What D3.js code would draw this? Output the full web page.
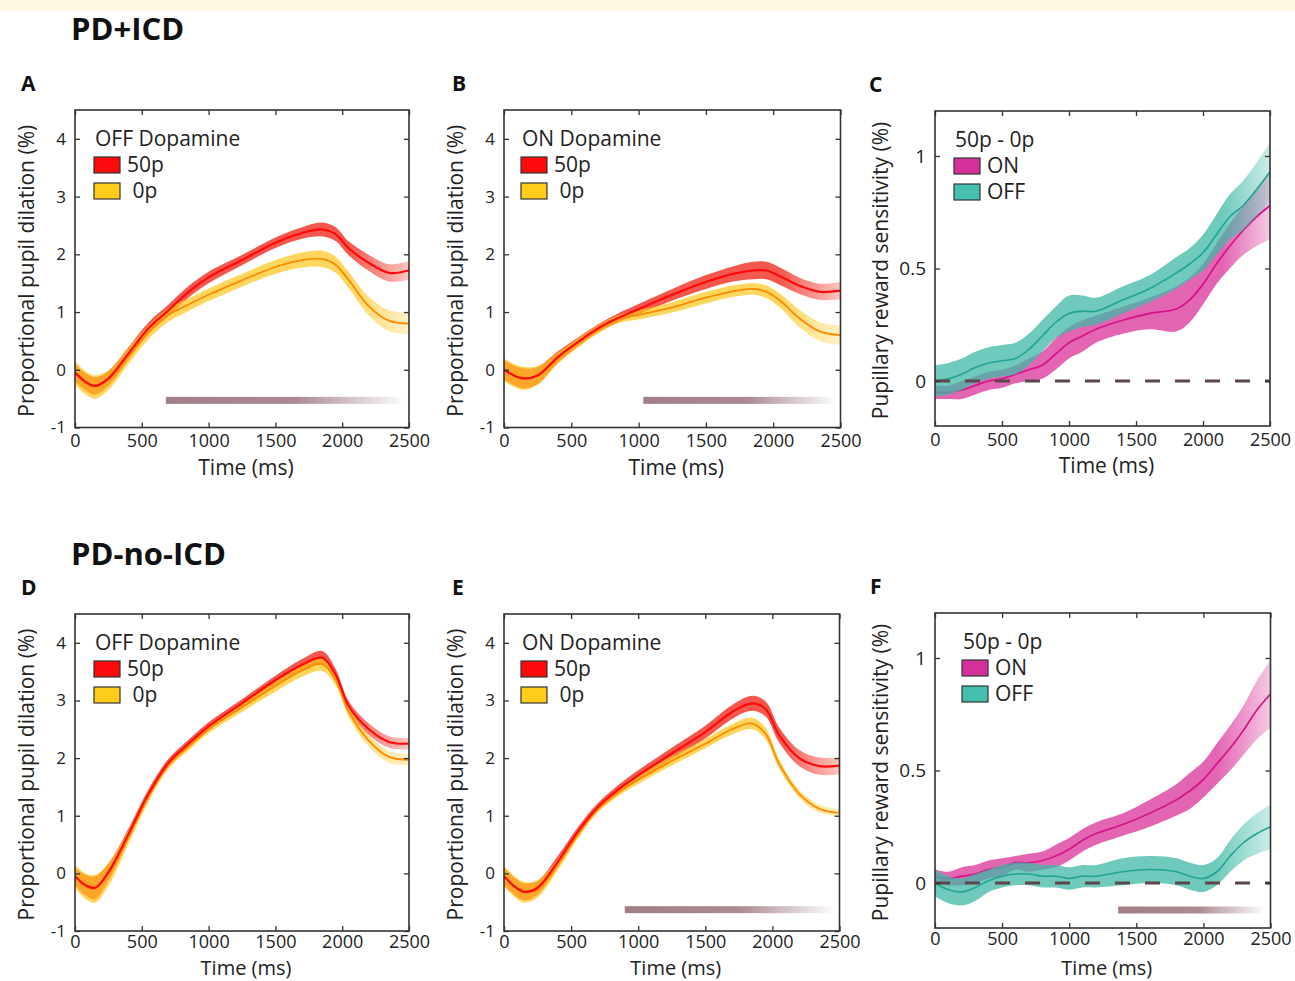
<!DOCTYPE html>
<html>
<head>
<meta charset="utf-8">
<script src="https://cdn.jsdelivr.net/npm/d3@7"></script>
<style>
body { margin: 0; background: #fff; }
svg { display: block; font-family: "Open Sans", sans-serif; }
</style>
</head>
<body>
<svg id="fig" width="1295" height="981"></svg>
<script>
// time axis (ms) for the pupil dilation panels
const pupilTime = [0, 75, 150, 250, 400, 550, 700, 850, 1000, 1250, 1500, 1700, 1850, 1950, 2050, 2200, 2350, 2500];

// PD+ICD, OFF dopamine (A)
const icdOff50 = [-0.05, -0.2, -0.28, -0.15, 0.28, 0.72, 1.03, 1.35, 1.6, 1.9, 2.2, 2.37, 2.43, 2.35, 2.1, 1.85, 1.68, 1.72];
const icdOff50Err = [0.15, 0.15, 0.15, 0.13, 0.11, 0.1, 0.1, 0.1, 0.1, 0.09, 0.09, 0.1, 0.12, 0.12, 0.12, 0.14, 0.15, 0.16];
const icdOff0 = [-0.05, -0.22, -0.3, -0.18, 0.24, 0.65, 0.95, 1.13, 1.3, 1.55, 1.78, 1.9, 1.92, 1.82, 1.55, 1.1, 0.85, 0.8];
const icdOff0Err = [0.2, 0.2, 0.2, 0.17, 0.14, 0.12, 0.12, 0.11, 0.11, 0.11, 0.12, 0.13, 0.14, 0.14, 0.14, 0.16, 0.18, 0.19];

// PD+ICD, ON dopamine (B)
const icdOn50 = [0, -0.1, -0.15, -0.1, 0.22, 0.48, 0.72, 0.9, 1.05, 1.3, 1.52, 1.66, 1.72, 1.72, 1.62, 1.45, 1.35, 1.37];
const icdOn50Err = [0.17, 0.17, 0.17, 0.15, 0.1, 0.08, 0.07, 0.08, 0.09, 0.1, 0.12, 0.13, 0.15, 0.15, 0.15, 0.14, 0.14, 0.15];
const icdOn0 = [0, -0.1, -0.15, -0.1, 0.2, 0.47, 0.7, 0.88, 0.95, 1.08, 1.25, 1.36, 1.4, 1.35, 1.2, 0.88, 0.66, 0.6];
const icdOn0Err = [0.2, 0.2, 0.2, 0.16, 0.1, 0.08, 0.07, 0.07, 0.08, 0.09, 0.1, 0.1, 0.1, 0.11, 0.12, 0.15, 0.16, 0.17];

// PD-no-ICD, OFF dopamine (D)
const noOff50 = [-0.05, -0.2, -0.25, 0.02, 0.68, 1.38, 1.92, 2.25, 2.55, 2.95, 3.35, 3.62, 3.74, 3.45, 2.9, 2.5, 2.28, 2.25];
const noOff50Err = [0.15, 0.18, 0.2, 0.15, 0.1, 0.08, 0.07, 0.07, 0.07, 0.07, 0.08, 0.1, 0.12, 0.1, 0.08, 0.1, 0.1, 0.1];
const noOff0 = [-0.05, -0.22, -0.27, -0.02, 0.63, 1.33, 1.88, 2.2, 2.5, 2.88, 3.25, 3.52, 3.63, 3.36, 2.8, 2.3, 2.02, 1.97];
const noOff0Err = [0.2, 0.22, 0.24, 0.2, 0.12, 0.09, 0.07, 0.07, 0.07, 0.08, 0.1, 0.11, 0.12, 0.1, 0.09, 0.1, 0.1, 0.1];

// PD-no-ICD, ON dopamine (E)
const noOn50 = [-0.05, -0.22, -0.32, -0.25, 0.2, 0.72, 1.15, 1.45, 1.7, 2.08, 2.45, 2.8, 2.95, 2.85, 2.4, 2.0, 1.86, 1.87];
const noOn50Err = [0.15, 0.15, 0.15, 0.12, 0.1, 0.08, 0.07, 0.08, 0.09, 0.1, 0.11, 0.12, 0.13, 0.13, 0.13, 0.14, 0.15, 0.15];
const noOn0 = [-0.05, -0.22, -0.33, -0.27, 0.15, 0.67, 1.12, 1.4, 1.62, 1.95, 2.25, 2.5, 2.6, 2.42, 1.9, 1.38, 1.12, 1.05];
const noOn0Err = [0.18, 0.18, 0.18, 0.15, 0.1, 0.07, 0.06, 0.06, 0.07, 0.08, 0.08, 0.09, 0.1, 0.1, 0.08, 0.07, 0.07, 0.07];

// time axis (ms) for the reward sensitivity (50p - 0p) panels
const diffTime = [0, 100, 200, 300, 400, 500, 600, 700, 800, 900, 1000, 1100, 1200, 1400, 1600, 1800, 1900, 2000, 2100, 2200, 2300, 2400, 2500];

// PD+ICD difference (C)
const icdDiffOn = [-0.05, -0.05, -0.04, -0.02, 0, 0.01, 0.03, 0.05, 0.07, 0.12, 0.17, 0.2, 0.23, 0.27, 0.3, 0.32, 0.36, 0.43, 0.52, 0.6, 0.67, 0.73, 0.78];
const icdDiffOnErr = [0.03, 0.03, 0.04, 0.04, 0.04, 0.04, 0.04, 0.05, 0.06, 0.07, 0.07, 0.07, 0.06, 0.06, 0.07, 0.1, 0.1, 0.09, 0.09, 0.1, 0.11, 0.13, 0.15];
const icdDiffOff = [0, 0.01, 0.03, 0.06, 0.08, 0.09, 0.1, 0.14, 0.2, 0.26, 0.3, 0.31, 0.31, 0.36, 0.41, 0.48, 0.52, 0.57, 0.65, 0.73, 0.78, 0.85, 0.93];
const icdDiffOffErr = [0.07, 0.07, 0.07, 0.07, 0.07, 0.07, 0.07, 0.07, 0.07, 0.07, 0.08, 0.07, 0.06, 0.06, 0.06, 0.07, 0.07, 0.08, 0.09, 0.1, 0.11, 0.12, 0.13];

// PD-no-ICD difference (F)
const noDiffOn = [0.03, 0.02, 0.03, 0.04, 0.06, 0.07, 0.09, 0.09, 0.1, 0.12, 0.15, 0.19, 0.22, 0.26, 0.31, 0.37, 0.41, 0.46, 0.53, 0.6, 0.68, 0.77, 0.84];
const noDiffOnErr = [0.03, 0.03, 0.04, 0.04, 0.04, 0.04, 0.03, 0.04, 0.04, 0.05, 0.05, 0.05, 0.05, 0.05, 0.06, 0.07, 0.08, 0.08, 0.09, 0.1, 0.11, 0.13, 0.15];
const noDiffOff = [0, -0.03, -0.04, -0.02, 0.01, 0.03, 0.04, 0.04, 0.03, 0.03, 0.02, 0.03, 0.03, 0.05, 0.06, 0.05, 0.03, 0.02, 0.05, 0.12, 0.18, 0.22, 0.25];
const noDiffOffErr = [0.06, 0.06, 0.06, 0.06, 0.05, 0.05, 0.05, 0.05, 0.05, 0.05, 0.05, 0.05, 0.05, 0.06, 0.06, 0.06, 0.06, 0.06, 0.06, 0.07, 0.08, 0.09, 0.1];

// significance bars: [start ms, end ms, y value]
const sigA = [680, 2445, -0.53];
const sigB = [1035, 2445, -0.53];
const sigE = [900, 2445, -0.63];
const sigF = [1365, 2445, -0.12];

const timeTicks = [0, 500, 1000, 1500, 2000, 2500];
const pupilTicks = [-1, 0, 1, 2, 3, 4];
const diffTicks = [0, 0.5, 1];

const svg = d3.select("#fig");
const defs = svg.append("defs");

svg.append("rect")
    .attr("x", 0).attr("y", 0)
    .attr("width", 1295).attr("height", 11)
    .attr("fill", "#fdf7e3");

svg.append("text").attr("x", 71).attr("y", 40)
    .attr("font-size", 31).attr("font-weight", 700).attr("fill", "#111")
    .text("PD+ICD");
svg.append("text").attr("x", 71).attr("y", 565)
    .attr("font-size", 31).attr("font-weight", 700).attr("fill", "#111")
    .text("PD-no-ICD");

// band colour that gets lighter towards the end of the trial
function bandGradient(id, color, fadeFrac) {
    const grad = defs.append("linearGradient").attr("id", id)
        .attr("x1", 0).attr("x2", 1).attr("y1", 0).attr("y2", 0);
    grad.append("stop").attr("offset", 0).attr("stop-color", color).attr("stop-opacity", 1);
    grad.append("stop").attr("offset", fadeFrac).attr("stop-color", color).attr("stop-opacity", 1);
    grad.append("stop").attr("offset", 1).attr("stop-color", color).attr("stop-opacity", 0.35);
    return `url(#${id})`;
}

const sigGrad = defs.append("linearGradient").attr("id", "sigGrad");
sigGrad.append("stop").attr("offset", 0).attr("stop-color", "#a27e85").attr("stop-opacity", 1);
sigGrad.append("stop").attr("offset", 0.55).attr("stop-color", "#a6848b").attr("stop-opacity", 0.95);
sigGrad.append("stop").attr("offset", 1).attr("stop-color", "#a6848b").attr("stop-opacity", 0.04);

const panels = [
    { id: "A", left: 75, right: 409, top: 110, bottom: 427.5, diff: false, legendTitle: "OFF Dopamine", legendDx: 19, letterX: 21, fade: 2050,
      series: [icdOff50, icdOff50Err, icdOff0, icdOff0Err], sig: sigA },
    { id: "B", left: 504, right: 840.5, top: 110, bottom: 427.5, diff: false, legendTitle: "ON Dopamine", legendDx: 17, letterX: 452, fade: 2050,
      series: [icdOn50, icdOn50Err, icdOn0, icdOn0Err], sig: sigB },
    { id: "C", left: 935, right: 1270, top: 111, bottom: 426, diff: true, legendTitle: "50p - 0p", legendDx: 19, letterX: 869, fade: 2150,
      series: [icdDiffOn, icdDiffOnErr, icdDiffOff, icdDiffOffErr], sig: null },
    { id: "D", left: 75, right: 409, top: 614, bottom: 931, diff: false, legendTitle: "OFF Dopamine", legendDx: 19, letterX: 21, fade: 2000,
      series: [noOff50, noOff50Err, noOff0, noOff0Err], sig: null },
    { id: "E", left: 504, right: 839.5, top: 614, bottom: 931, diff: false, legendTitle: "ON Dopamine", legendDx: 17, letterX: 452, fade: 2050,
      series: [noOn50, noOn50Err, noOn0, noOn0Err], sig: sigE },
    { id: "F", left: 935, right: 1270.5, top: 613, bottom: 928, diff: true, legendTitle: "50p - 0p", legendDx: 27, letterX: 870, fade: 2100,
      series: [noDiffOn, noDiffOnErr, noDiffOff, noDiffOffErr], sig: sigF }
];

function drawPanel(p) {
    const times = p.diff ? diffTime : pupilTime;
    const x = d3.scaleLinear().domain([0, 2500]).range([p.left, p.right]);
    const y = d3.scaleLinear().domain(p.diff ? [-0.2, 1.2] : [-1, 4.5]).range([p.bottom, p.top]);
    const g = svg.append("g");
    const fadeFrac = p.fade / 2500;
    const curve = d3.curveCatmullRom.alpha(0.5);
    // bottom row sits against the page edge, so its x labels are packed a bit tighter
    const lowRow = p.bottom > 900;

    // panel letter
    g.append("text").attr("x", p.letterX).attr("y", p.top - 19)
        .attr("font-size", 21).attr("font-weight", 700).attr("fill", "#111")
        .text(p.id);

    g.append("clipPath").attr("id", "clip" + p.id)
        .append("rect").attr("x", p.left).attr("y", p.top)
        .attr("width", p.right - p.left).attr("height", p.bottom - p.top);
    const plot = g.append("g").attr("clip-path", `url(#clip${p.id})`);

    if (p.sig) {
        plot.append("rect")
            .attr("x", x(p.sig[0])).attr("width", x(p.sig[1]) - x(p.sig[0]))
            .attr("y", y(p.sig[2]) - 3.5).attr("height", 7)
            .attr("fill", "url(#sigGrad)");
    }

    const styles = p.diff
        ? [{ band: "#dc3f9f", op: 0.8, line: "#d4168b", lw: 1.8 },
           { band: "#3fb8a6", op: 0.75, line: "#20a494", lw: 1.6 }]
        : [{ band: "#f23a2e", op: 0.85, line: "#ff0a0a", lw: 2.2 },
           { band: "#ffc61a", op: 0.7, line: "#ff8a00", lw: 1.8 }];

    const line = d3.line().x((d, i) => x(times[i])).y(d => y(d)).curve(curve);

    const bandPaths = [];
    const linePaths = [];
    [0, 1].forEach(k => {
        const vals = p.series[k * 2];
        const err = p.series[k * 2 + 1];
        const st = styles[k];
        const area = d3.area()
            .x((d, i) => x(times[i]))
            .y0((d, i) => y(d - err[i]))
            .y1((d, i) => y(d + err[i]))
            .curve(curve);
        bandPaths.push({ d: area(vals), fill: bandGradient(`band${p.id}${k}`, st.band, fadeFrac), op: st.op });
        linePaths.push({ d: line(vals), stroke: st.line, lw: st.lw });
    });

    if (p.diff) {
        // ON band + line, then OFF band + line on top
        [0, 1].forEach(k => {
            plot.append("path").attr("d", bandPaths[k].d).attr("fill", bandPaths[k].fill).attr("fill-opacity", bandPaths[k].op);
            plot.append("path").attr("d", linePaths[k].d).attr("fill", "none")
                .attr("stroke", linePaths[k].stroke).attr("stroke-width", linePaths[k].lw);
        });
        plot.append("line")
            .attr("x1", p.left).attr("x2", p.right)
            .attr("y1", y(0)).attr("y2", y(0))
            .attr("stroke", "#5c464b").attr("stroke-width", 3.2)
            .attr("stroke-dasharray", "15,15");
    } else {
        bandPaths.forEach(b => plot.append("path").attr("d", b.d).attr("fill", b.fill).attr("fill-opacity", b.op));
        [1, 0].forEach(k => {
            plot.append("path").attr("d", linePaths[k].d).attr("fill", "none")
                .attr("stroke", linePaths[k].stroke).attr("stroke-width", linePaths[k].lw);
        });
    }

    // axes with inward ticks on all four sides
    const yTicks = p.diff ? diffTicks : pupilTicks;
    const tickStyle = a => {
        a.select(".domain").remove();
        a.selectAll(".tick line").attr("stroke", "#333").attr("stroke-width", 1.3);
        a.selectAll(".tick text").attr("fill", "#222").attr("font-family", "Open Sans");
    };
    g.append("g").attr("transform", `translate(0,${p.bottom})`)
        .call(d3.axisBottom(x).tickValues(timeTicks).tickSize(-5).tickPadding(lowRow ? 4 : 7).tickFormat(d3.format("d")))
        .attr("font-size", 18)
        .call(tickStyle);
    g.append("g").attr("transform", `translate(0,${p.top})`)
        .call(d3.axisTop(x).tickValues(timeTicks).tickSize(-5).tickFormat(""))
        .call(tickStyle);
    g.append("g").attr("transform", `translate(${p.left},0)`)
        .call(d3.axisLeft(y).tickValues(yTicks).tickSize(-5).tickPadding(9).tickFormat(d => String(d)))
        .attr("font-size", p.diff ? 19 : 17)
        .call(tickStyle);
    g.append("g").attr("transform", `translate(${p.right},0)`)
        .call(d3.axisRight(y).tickValues(yTicks).tickSize(-5).tickFormat(""))
        .call(tickStyle);

    g.append("rect")
        .attr("x", p.left).attr("y", p.top)
        .attr("width", p.right - p.left).attr("height", p.bottom - p.top)
        .attr("fill", "none").attr("stroke", "#333").attr("stroke-width", 1.6);

    // axis titles
    g.append("text")
        .attr("x", (p.left + p.right) / 2 + 4).attr("y", lowRow ? 975 : p.bottom + 47)
        .attr("text-anchor", "middle").attr("font-size", lowRow ? 20 : 21).attr("fill", "#222")
        .text("Time (ms)");
    const ty = (p.top + p.bottom) / 2 + 2;
    const tx = p.left - (p.diff ? 47 : 41);
    g.append("text")
        .attr("transform", `translate(${tx},${ty}) rotate(-90)`)
        .attr("text-anchor", "middle").attr("font-size", 21).attr("fill", "#222")
        .text(p.diff ? "Pupillary reward sensitivity (%)" : "Proportional pupil dilation (%)");

    // legend
    const lx = p.left + p.legendDx;
    const labels = p.diff ? ["ON", "OFF"] : ["50p", " 0p"];
    const swatch = p.diff ? ["#d6309a", "#45bfae"] : ["#ff0a0a", "#ffcc1a"];
    g.append("text").attr("x", lx + 1).attr("y", p.top + 35.5)
        .attr("font-size", 21).attr("fill", "#222").text(p.legendTitle);
    [0, 1].forEach(k => {
        const sy = p.top + 47 + k * 26;
        g.append("rect").attr("x", lx).attr("y", sy).attr("width", 26).attr("height", 16)
            .attr("fill", swatch[k]).attr("stroke", "#333").attr("stroke-width", 1.2);
        g.append("text").attr("x", lx + 33).attr("y", sy + 15)
            .attr("font-size", 21).attr("fill", "#222")
            .attr("xml:space", "preserve").style("white-space", "pre")
            .text(labels[k]);
    });
}

panels.forEach(drawPanel);
</script>
</body>
</html>
